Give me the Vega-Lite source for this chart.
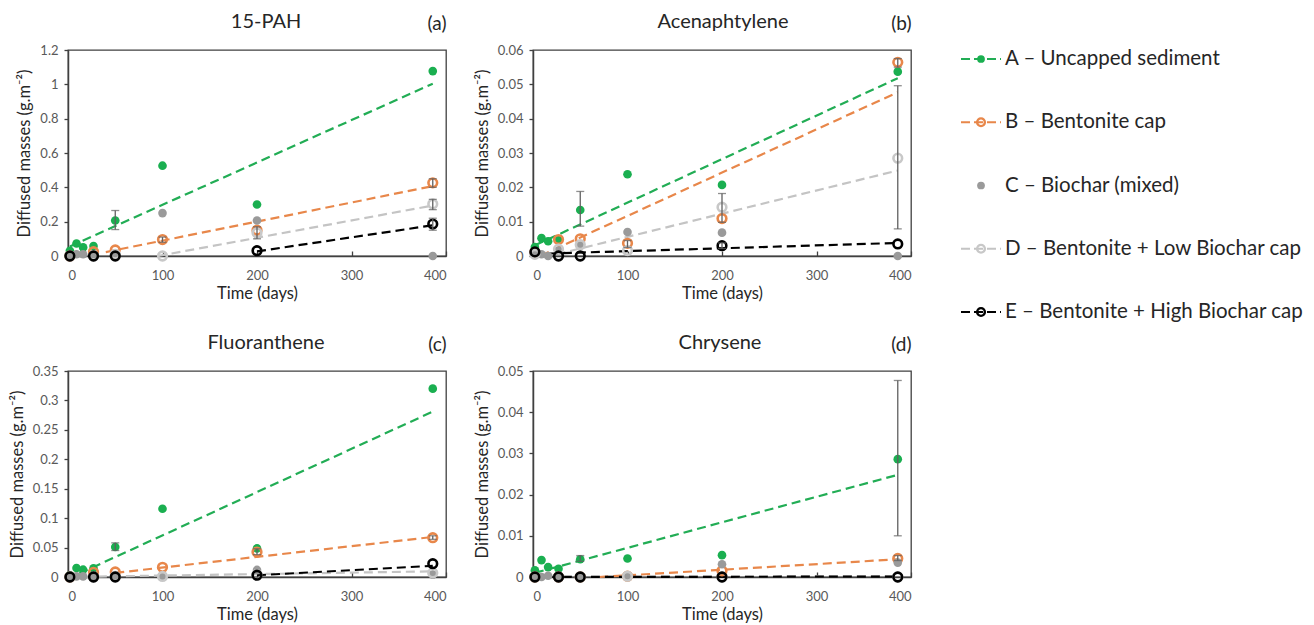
{
  "$schema": "https://vega.github.io/schema/vega-lite/v6.json",
  "background": "white",
  "padding": {"left": 8, "top": 11, "right": 5, "bottom": 3},
  "config": {
    "font": "Lato",
    "view": {"stroke": "#404040", "strokeWidth": 1.3},
    "axis": {"labelFont": "Lato", "labelFontSize": 13, "labelColor": "#595959", "titleFont": "Lato", "titleFontSize": 16.5, "titleFontWeight": "normal", "titleColor": "#262626", "grid": false, "domainColor": "#404040", "domainWidth": 1.5, "tickColor": "#404040", "tickWidth": 1.3},
    "axisX": {"tickSize": -5, "labelPadding": 18, "titlePadding": 3},
    "axisY": {"tickSize": 4, "labelPadding": 6, "titlePadding": 7},
    "title": {"font": "Lato", "fontSize": 20, "fontWeight": "normal", "color": "#262626"}
  },
  "datasets": {
    "pts": [
      {"p":"a","s":"A","t":2,"v":0.03},{"p":"a","s":"A","t":9,"v":0.073},{"p":"a","s":"A","t":16,"v":0.05},{"p":"a","s":"A","t":27,"v":0.058},{"p":"a","s":"A","t":50,"v":0.207},{"p":"a","s":"A","t":100,"v":0.526},{"p":"a","s":"A","t":200,"v":0.30},{"p":"a","s":"A","t":386,"v":1.077},
      {"p":"b","s":"A","t":2,"v":0.0026},{"p":"b","s":"A","t":9,"v":0.0052},{"p":"b","s":"A","t":16,"v":0.0043},{"p":"b","s":"A","t":27,"v":0.0047},{"p":"b","s":"A","t":50,"v":0.0134},{"p":"b","s":"A","t":100,"v":0.0238},{"p":"b","s":"A","t":200,"v":0.0207},{"p":"b","s":"A","t":386,"v":0.0537},
      {"p":"c","s":"A","t":2,"v":0.003},{"p":"c","s":"A","t":9,"v":0.0153},{"p":"c","s":"A","t":16,"v":0.0124},{"p":"c","s":"A","t":27,"v":0.0147},{"p":"c","s":"A","t":50,"v":0.0509},{"p":"c","s":"A","t":100,"v":0.116},{"p":"c","s":"A","t":200,"v":0.0486},{"p":"c","s":"A","t":386,"v":0.32},
      {"p":"d","s":"A","t":2,"v":0.0016},{"p":"d","s":"A","t":9,"v":0.0041},{"p":"d","s":"A","t":16,"v":0.0024},{"p":"d","s":"A","t":27,"v":0.002},{"p":"d","s":"A","t":50,"v":0.0043},{"p":"d","s":"A","t":100,"v":0.0045},{"p":"d","s":"A","t":200,"v":0.0053},{"p":"d","s":"A","t":386,"v":0.0286},
      {"p":"a","s":"B","t":2,"v":0},{"p":"a","s":"B","t":27,"v":0.025},{"p":"a","s":"B","t":50,"v":0.035},{"p":"a","s":"B","t":100,"v":0.096},{"p":"a","s":"B","t":200,"v":0.15},{"p":"a","s":"B","t":386,"v":0.426},
      {"p":"b","s":"B","t":2,"v":0.001},{"p":"b","s":"B","t":27,"v":0.0048},{"p":"b","s":"B","t":50,"v":0.005},{"p":"b","s":"B","t":100,"v":0.0037},{"p":"b","s":"B","t":200,"v":0.0109},{"p":"b","s":"B","t":386,"v":0.0564},
      {"p":"c","s":"B","t":2,"v":0},{"p":"c","s":"B","t":27,"v":0.008},{"p":"c","s":"B","t":50,"v":0.0085},{"p":"c","s":"B","t":100,"v":0.0164},{"p":"c","s":"B","t":200,"v":0.0424},{"p":"c","s":"B","t":386,"v":0.0667},
      {"p":"d","s":"B","t":2,"v":0},{"p":"d","s":"B","t":27,"v":0},{"p":"d","s":"B","t":50,"v":0},{"p":"d","s":"B","t":100,"v":0.0002},{"p":"d","s":"B","t":200,"v":0.0015},{"p":"d","s":"B","t":386,"v":0.0045},
      {"p":"a","s":"C","t":2,"v":0},{"p":"a","s":"C","t":9,"v":0.01},{"p":"a","s":"C","t":16,"v":0.01},{"p":"a","s":"C","t":27,"v":0.01},{"p":"a","s":"C","t":50,"v":0.01},{"p":"a","s":"C","t":100,"v":0.25},{"p":"a","s":"C","t":200,"v":0.207},{"p":"a","s":"C","t":386,"v":0},
      {"p":"b","s":"C","t":2,"v":0.001},{"p":"b","s":"C","t":9,"v":0.0005},{"p":"b","s":"C","t":16,"v":0},{"p":"b","s":"C","t":27,"v":0.0016},{"p":"b","s":"C","t":50,"v":0.003},{"p":"b","s":"C","t":100,"v":0.007},{"p":"b","s":"C","t":200,"v":0.0068},{"p":"b","s":"C","t":386,"v":0},
      {"p":"c","s":"C","t":2,"v":0},{"p":"c","s":"C","t":9,"v":0.001},{"p":"c","s":"C","t":16,"v":0.001},{"p":"c","s":"C","t":27,"v":0.002},{"p":"c","s":"C","t":50,"v":0.002},{"p":"c","s":"C","t":100,"v":0.001},{"p":"c","s":"C","t":200,"v":0.012},{"p":"c","s":"C","t":386,"v":0.004},
      {"p":"d","s":"C","t":2,"v":0},{"p":"d","s":"C","t":9,"v":0},{"p":"d","s":"C","t":16,"v":0.0003},{"p":"d","s":"C","t":27,"v":0},{"p":"d","s":"C","t":50,"v":0},{"p":"d","s":"C","t":100,"v":0},{"p":"d","s":"C","t":200,"v":0.0031},{"p":"d","s":"C","t":386,"v":0.0035},
      {"p":"a","s":"D","t":2,"v":0},{"p":"a","s":"D","t":27,"v":0},{"p":"a","s":"D","t":50,"v":0.01},{"p":"a","s":"D","t":100,"v":0},{"p":"a","s":"D","t":200,"v":0.135},{"p":"a","s":"D","t":386,"v":0.303},
      {"p":"b","s":"D","t":2,"v":0.0005},{"p":"b","s":"D","t":27,"v":0.002},{"p":"b","s":"D","t":50,"v":0.0033},{"p":"b","s":"D","t":100,"v":0.0016},{"p":"b","s":"D","t":200,"v":0.0142},{"p":"b","s":"D","t":386,"v":0.0285},
      {"p":"c","s":"D","t":2,"v":0},{"p":"c","s":"D","t":27,"v":0},{"p":"c","s":"D","t":50,"v":0.001},{"p":"c","s":"D","t":100,"v":0.001},{"p":"c","s":"D","t":200,"v":0.004},{"p":"c","s":"D","t":386,"v":0.007},
      {"p":"d","s":"D","t":2,"v":0},{"p":"d","s":"D","t":27,"v":0},{"p":"d","s":"D","t":50,"v":0},{"p":"d","s":"D","t":100,"v":0.0002},{"p":"d","s":"D","t":200,"v":0},{"p":"d","s":"D","t":386,"v":0},
      {"p":"a","s":"E","t":2,"v":0},{"p":"a","s":"E","t":27,"v":0},{"p":"a","s":"E","t":50,"v":0},{"p":"a","s":"E","t":200,"v":0.031},{"p":"a","s":"E","t":386,"v":0.186},
      {"p":"b","s":"E","t":2,"v":0.0012},{"p":"b","s":"E","t":27,"v":0},{"p":"b","s":"E","t":50,"v":0},{"p":"b","s":"E","t":200,"v":0.003},{"p":"b","s":"E","t":386,"v":0.0035},
      {"p":"c","s":"E","t":2,"v":0},{"p":"c","s":"E","t":27,"v":0},{"p":"c","s":"E","t":50,"v":0},{"p":"c","s":"E","t":200,"v":0.003},{"p":"c","s":"E","t":386,"v":0.0226},
      {"p":"d","s":"E","t":2,"v":0},{"p":"d","s":"E","t":27,"v":0},{"p":"d","s":"E","t":50,"v":0},{"p":"d","s":"E","t":200,"v":0},{"p":"d","s":"E","t":386,"v":0}
    ],
    "trend": [
      {"p":"a","s":"A","t":2,"v":0.056},{"p":"a","s":"A","t":386,"v":1.004},
      {"p":"a","s":"B","t":40,"v":0.023},{"p":"a","s":"B","t":386,"v":0.407},
      {"p":"a","s":"D","t":95,"v":0},{"p":"a","s":"D","t":386,"v":0.294},
      {"p":"a","s":"E","t":200,"v":0.027},{"p":"a","s":"E","t":386,"v":0.179},
      {"p":"b","s":"A","t":2,"v":0.0031},{"p":"b","s":"A","t":386,"v":0.0518},
      {"p":"b","s":"B","t":8,"v":0.0001},{"p":"b","s":"B","t":386,"v":0.0477},
      {"p":"b","s":"D","t":25,"v":0.0005},{"p":"b","s":"D","t":386,"v":0.0249},
      {"p":"b","s":"E","t":2,"v":0.0006},{"p":"b","s":"E","t":386,"v":0.0038},
      {"p":"c","s":"A","t":12,"v":0.006},{"p":"c","s":"A","t":386,"v":0.281},
      {"p":"c","s":"B","t":50,"v":0.007},{"p":"c","s":"B","t":386,"v":0.068},
      {"p":"c","s":"D","t":2,"v":0},{"p":"c","s":"D","t":386,"v":0.0096},
      {"p":"c","s":"E","t":200,"v":0.003},{"p":"c","s":"E","t":386,"v":0.019},
      {"p":"d","s":"A","t":2,"v":0.001},{"p":"d","s":"A","t":386,"v":0.0248},
      {"p":"d","s":"B","t":70,"v":0},{"p":"d","s":"B","t":386,"v":0.0043},
      {"p":"d","s":"D","t":2,"v":0},{"p":"d","s":"D","t":386,"v":0.0002},
      {"p":"d","s":"E","t":2,"v":0},{"p":"d","s":"E","t":386,"v":0.0001}
    ],
    "err": [
      {"p":"a","t":50,"lo":0.154,"hi":0.265},{"p":"a","t":100,"lo":0.08,"hi":0.11},{"p":"a","t":200,"lo":0.10,"hi":0.17},{"p":"a","t":386,"lo":0.40,"hi":0.45},{"p":"a","t":386,"lo":0.27,"hi":0.33},{"p":"a","t":386,"lo":0.15,"hi":0.22},
      {"p":"b","t":50,"lo":0.0087,"hi":0.0188},{"p":"b","t":100,"lo":0.0025,"hi":0.0045},{"p":"b","t":200,"lo":0.0098,"hi":0.0182},{"p":"b","t":200,"lo":0.0022,"hi":0.0038},{"p":"b","t":386,"lo":0.055,"hi":0.0575},{"p":"b","t":386,"lo":0.0079,"hi":0.0496},
      {"p":"c","t":50,"lo":0.045,"hi":0.058},{"p":"c","t":200,"lo":0.038,"hi":0.048},{"p":"c","t":386,"lo":0.064,"hi":0.070},
      {"p":"d","t":50,"lo":0.0038,"hi":0.0052},{"p":"d","t":386,"lo":0.010,"hi":0.0477},{"p":"d","t":386,"lo":0.0040,"hi":0.0052}
    ],
    "leg": [
      {"s":"A","label":"A – Uncapped sediment"},
      {"s":"B","label":"B – Bentonite cap"},
      {"s":"C","label":"C – Biochar (mixed)"},
      {"s":"D","label":"D – Bentonite + Low Biochar cap"},
      {"s":"E","label":"E – Bentonite + High Biochar cap"}
    ]
  },
  "bounds": "flush",
  "spacing": {"row": 115, "column": 87},
  "columns": 3,
  "resolve": {"scale": {"x": "independent", "y": "independent"}},
  "concat": [
    {
      "width": 378, "height": 206,
      "title": {"text": "15-PAH", "anchor": "middle", "frame": "group", "dx": 9, "dy": 20, "offset": 2},
      "resolve": {"axis": {"x": "independent", "y": "independent"}},
      "layer": [
        {"data": {"name": "trend"}, "transform": [{"filter": "datum.p === 'a'"}],
         "mark": {"type": "line", "strokeDash": [9, 5], "strokeWidth": 2.2},
         "encoding": {
           "x": {"field": "t", "type": "quantitative", "scale": {"domain": [0, 400], "nice": false}, "axis": {"orient": "top", "title": "(a)", "labels": false, "ticks": false, "domain": false, "titleAnchor": "end", "titleFontSize": 19, "titlePadding": 17}},
           "y": {"field": "v", "type": "quantitative", "scale": {"domain": [0, 1.2], "nice": false}, "axis": null},
           "color": {"field": "s", "type": "nominal", "scale": {"domain": ["A", "B", "D", "E"], "range": ["#22ad55", "#e8874a", "#c4c4c4", "#000000"]}, "legend": null}
         }},
        {"data": {"name": "pts"}, "transform": [{"filter": "datum.p === 'a'"}],
         "mark": {"type": "point", "shape": "circle", "size": 75, "strokeWidth": 2.6, "opacity": 1},
         "encoding": {
           "x": {"field": "t", "type": "quantitative", "scale": {"domain": [0, 400], "nice": false}, "axis": {"orient": "bottom", "title": "Time (days)", "values": [0, 100, 200, 300, 400], "format": "d"}},
           "y": {"field": "v", "type": "quantitative", "scale": {"domain": [0, 1.2], "nice": false}, "axis": {"orient": "left", "title": "Diffused masses (g.m⁻²)", "values": [0, 0.2, 0.4, 0.6, 0.8, 1, 1.2], "format": "~g"}},
           "fill": {"field": "s", "type": "nominal", "scale": {"domain": ["A", "B", "C", "D", "E"], "range": ["#1aaf50", "transparent", "#9a9a9a", "transparent", "transparent"]}, "legend": null},
           "stroke": {"field": "s", "type": "nominal", "scale": {"domain": ["A", "B", "C", "D", "E"], "range": ["transparent", "#e8874a", "transparent", "#c8c8c8", "#000000"]}, "legend": null}
         }},
        {"data": {"name": "err"}, "transform": [{"filter": "datum.p === 'a'"}],
         "mark": {"type": "errorbar", "color": "#606060", "ticks": {"size": 8}, "thickness": 1.3},
         "encoding": {
           "x": {"field": "t", "type": "quantitative", "scale": {"domain": [0, 400], "nice": false}, "axis": null},
           "y": {"field": "lo", "type": "quantitative", "scale": {"domain": [0, 1.2], "nice": false}, "axis": null},
           "y2": {"field": "hi"}
         }}
      ]
    },
    {
      "width": 378, "height": 206,
      "title": {"text": "Acenaphtylene", "anchor": "middle", "frame": "group", "dx": 1, "dy": 20, "offset": 2},
      "resolve": {"axis": {"x": "independent", "y": "independent"}},
      "layer": [
        {"data": {"name": "trend"}, "transform": [{"filter": "datum.p === 'b'"}],
         "mark": {"type": "line", "strokeDash": [9, 5], "strokeWidth": 2.2},
         "encoding": {
           "x": {"field": "t", "type": "quantitative", "scale": {"domain": [0, 400], "nice": false}, "axis": {"orient": "top", "title": "(b)", "labels": false, "ticks": false, "domain": false, "titleAnchor": "end", "titleFontSize": 19, "titlePadding": 17}},
           "y": {"field": "v", "type": "quantitative", "scale": {"domain": [0, 0.06], "nice": false}, "axis": null},
           "color": {"field": "s", "type": "nominal", "scale": {"domain": ["A", "B", "D", "E"], "range": ["#22ad55", "#e8874a", "#c4c4c4", "#000000"]}, "legend": null}
         }},
        {"data": {"name": "pts"}, "transform": [{"filter": "datum.p === 'b'"}],
         "mark": {"type": "point", "shape": "circle", "size": 75, "strokeWidth": 2.6, "opacity": 1},
         "encoding": {
           "x": {"field": "t", "type": "quantitative", "scale": {"domain": [0, 400], "nice": false}, "axis": {"orient": "bottom", "title": "Time (days)", "values": [0, 100, 200, 300, 400], "format": "d"}},
           "y": {"field": "v", "type": "quantitative", "scale": {"domain": [0, 0.06], "nice": false}, "axis": {"orient": "left", "title": "Diffused masses (g.m⁻²)", "values": [0, 0.01, 0.02, 0.03, 0.04, 0.05, 0.06], "format": "~g"}},
           "fill": {"field": "s", "type": "nominal", "scale": {"domain": ["A", "B", "C", "D", "E"], "range": ["#1aaf50", "transparent", "#9a9a9a", "transparent", "transparent"]}, "legend": null},
           "stroke": {"field": "s", "type": "nominal", "scale": {"domain": ["A", "B", "C", "D", "E"], "range": ["transparent", "#e8874a", "transparent", "#c8c8c8", "#000000"]}, "legend": null}
         }},
        {"data": {"name": "err"}, "transform": [{"filter": "datum.p === 'b'"}],
         "mark": {"type": "errorbar", "color": "#606060", "ticks": {"size": 8}, "thickness": 1.3},
         "encoding": {
           "x": {"field": "t", "type": "quantitative", "scale": {"domain": [0, 400], "nice": false}, "axis": null},
           "y": {"field": "lo", "type": "quantitative", "scale": {"domain": [0, 0.06], "nice": false}, "axis": null},
           "y2": {"field": "hi"}
         }}
      ]
    },
    {
      "width": 300, "height": 200,
      "view": {"stroke": null},
      "data": {"name": "leg"},
      "layer": [
        {"transform": [{"filter": "datum.s !== 'C'"}],
         "mark": {"type": "rule", "strokeDash": [9, 4], "strokeWidth": 2.2},
         "encoding": {
           "x": {"datum": -37, "type": "quantitative", "scale": {"domain": [0, 300], "nice": false, "zero": false}, "axis": null},
           "x2": {"datum": 3},
           "y": {"field": "s", "type": "nominal", "scale": {"type": "point", "domain": ["A", "B", "C", "D", "E"], "range": [9, 262], "padding": 0}, "axis": null},
           "color": {"field": "s", "type": "nominal", "scale": {"domain": ["A", "B", "D", "E"], "range": ["#22ad55", "#e8874a", "#c4c4c4", "#000000"]}, "legend": null}
         }},
        {"mark": {"type": "point", "shape": "circle", "size": 60, "strokeWidth": 2.4, "opacity": 1},
         "encoding": {
           "x": {"datum": -17, "type": "quantitative", "scale": {"domain": [0, 300], "nice": false, "zero": false}, "axis": null},
           "y": {"field": "s", "type": "nominal", "scale": {"type": "point", "domain": ["A", "B", "C", "D", "E"], "range": [9, 262], "padding": 0}, "axis": null},
           "fill": {"field": "s", "type": "nominal", "scale": {"domain": ["A", "B", "C", "D", "E"], "range": ["#1aaf50", "white", "#9a9a9a", "white", "white"]}, "legend": null},
           "stroke": {"field": "s", "type": "nominal", "scale": {"domain": ["A", "B", "C", "D", "E"], "range": ["transparent", "#e8874a", "transparent", "#c8c8c8", "#000000"]}, "legend": null}
         }},
        {"mark": {"type": "text", "align": "left", "baseline": "middle", "font": "Lato", "fontSize": 20.5, "color": "#262626"},
         "encoding": {
           "x": {"datum": 7, "type": "quantitative", "scale": {"domain": [0, 300], "nice": false, "zero": false}, "axis": null},
           "y": {"field": "s", "type": "nominal", "scale": {"type": "point", "domain": ["A", "B", "C", "D", "E"], "range": [9, 262], "padding": 0}, "axis": null},
           "text": {"field": "label"}
         }}
      ]
    },
    {
      "width": 378, "height": 206,
      "title": {"text": "Fluoranthene", "anchor": "middle", "frame": "group", "dx": 9, "dy": 20, "offset": 2},
      "resolve": {"axis": {"x": "independent", "y": "independent"}},
      "layer": [
        {"data": {"name": "trend"}, "transform": [{"filter": "datum.p === 'c'"}],
         "mark": {"type": "line", "strokeDash": [9, 5], "strokeWidth": 2.2},
         "encoding": {
           "x": {"field": "t", "type": "quantitative", "scale": {"domain": [0, 400], "nice": false}, "axis": {"orient": "top", "title": "(c)", "labels": false, "ticks": false, "domain": false, "titleAnchor": "end", "titleFontSize": 19, "titlePadding": 17}},
           "y": {"field": "v", "type": "quantitative", "scale": {"domain": [0, 0.35], "nice": false}, "axis": null},
           "color": {"field": "s", "type": "nominal", "scale": {"domain": ["A", "B", "D", "E"], "range": ["#22ad55", "#e8874a", "#c4c4c4", "#000000"]}, "legend": null}
         }},
        {"data": {"name": "pts"}, "transform": [{"filter": "datum.p === 'c'"}],
         "mark": {"type": "point", "shape": "circle", "size": 75, "strokeWidth": 2.6, "opacity": 1},
         "encoding": {
           "x": {"field": "t", "type": "quantitative", "scale": {"domain": [0, 400], "nice": false}, "axis": {"orient": "bottom", "title": "Time (days)", "values": [0, 100, 200, 300, 400], "format": "d"}},
           "y": {"field": "v", "type": "quantitative", "scale": {"domain": [0, 0.35], "nice": false}, "axis": {"orient": "left", "title": "Diffused masses (g.m⁻²)", "values": [0, 0.05, 0.1, 0.15, 0.2, 0.25, 0.3, 0.35], "format": "~g"}},
           "fill": {"field": "s", "type": "nominal", "scale": {"domain": ["A", "B", "C", "D", "E"], "range": ["#1aaf50", "transparent", "#9a9a9a", "transparent", "transparent"]}, "legend": null},
           "stroke": {"field": "s", "type": "nominal", "scale": {"domain": ["A", "B", "C", "D", "E"], "range": ["transparent", "#e8874a", "transparent", "#c8c8c8", "#000000"]}, "legend": null}
         }},
        {"data": {"name": "err"}, "transform": [{"filter": "datum.p === 'c'"}],
         "mark": {"type": "errorbar", "color": "#606060", "ticks": {"size": 8}, "thickness": 1.3},
         "encoding": {
           "x": {"field": "t", "type": "quantitative", "scale": {"domain": [0, 400], "nice": false}, "axis": null},
           "y": {"field": "lo", "type": "quantitative", "scale": {"domain": [0, 0.35], "nice": false}, "axis": null},
           "y2": {"field": "hi"}
         }}
      ]
    },
    {
      "width": 378, "height": 206,
      "title": {"text": "Chrysene", "anchor": "middle", "frame": "group", "dx": -2, "dy": 20, "offset": 2},
      "resolve": {"axis": {"x": "independent", "y": "independent"}},
      "layer": [
        {"data": {"name": "trend"}, "transform": [{"filter": "datum.p === 'd'"}],
         "mark": {"type": "line", "strokeDash": [9, 5], "strokeWidth": 2.2},
         "encoding": {
           "x": {"field": "t", "type": "quantitative", "scale": {"domain": [0, 400], "nice": false}, "axis": {"orient": "top", "title": "(d)", "labels": false, "ticks": false, "domain": false, "titleAnchor": "end", "titleFontSize": 19, "titlePadding": 17}},
           "y": {"field": "v", "type": "quantitative", "scale": {"domain": [0, 0.05], "nice": false}, "axis": null},
           "color": {"field": "s", "type": "nominal", "scale": {"domain": ["A", "B", "D", "E"], "range": ["#22ad55", "#e8874a", "#c4c4c4", "#000000"]}, "legend": null}
         }},
        {"data": {"name": "pts"}, "transform": [{"filter": "datum.p === 'd'"}],
         "mark": {"type": "point", "shape": "circle", "size": 75, "strokeWidth": 2.6, "opacity": 1},
         "encoding": {
           "x": {"field": "t", "type": "quantitative", "scale": {"domain": [0, 400], "nice": false}, "axis": {"orient": "bottom", "title": "Time (days)", "values": [0, 100, 200, 300, 400], "format": "d"}},
           "y": {"field": "v", "type": "quantitative", "scale": {"domain": [0, 0.05], "nice": false}, "axis": {"orient": "left", "title": "Diffused masses (g.m⁻²)", "values": [0, 0.01, 0.02, 0.03, 0.04, 0.05], "format": "~g"}},
           "fill": {"field": "s", "type": "nominal", "scale": {"domain": ["A", "B", "C", "D", "E"], "range": ["#1aaf50", "transparent", "#9a9a9a", "transparent", "transparent"]}, "legend": null},
           "stroke": {"field": "s", "type": "nominal", "scale": {"domain": ["A", "B", "C", "D", "E"], "range": ["transparent", "#e8874a", "transparent", "#c8c8c8", "#000000"]}, "legend": null}
         }},
        {"data": {"name": "err"}, "transform": [{"filter": "datum.p === 'd'"}],
         "mark": {"type": "errorbar", "color": "#606060", "ticks": {"size": 8}, "thickness": 1.3},
         "encoding": {
           "x": {"field": "t", "type": "quantitative", "scale": {"domain": [0, 400], "nice": false}, "axis": null},
           "y": {"field": "lo", "type": "quantitative", "scale": {"domain": [0, 0.05], "nice": false}, "axis": null},
           "y2": {"field": "hi"}
         }}
      ]
    }
  ]
}
